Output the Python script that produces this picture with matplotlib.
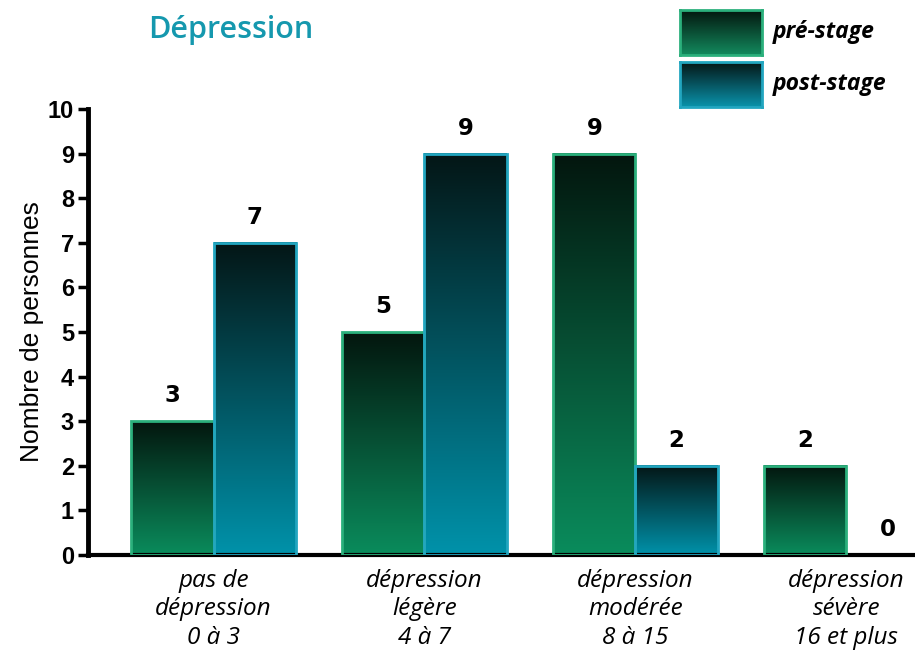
import numpy as np
import matplotlib
matplotlib.use("Agg")
import matplotlib.pyplot as plt

categories = ["pas de\ndépression\n0 à 3", "dépression\nlégère\n4 à 7",
              "dépression\nmodérée\n8 à 15", "dépression\nsévère\n16 et plus"]
pre_values = [3, 5, 9, 2]
post_values = [7, 9, 2, 0]
series_names = ["pré-stage", "post-stage"]
yticks = list(range(0, 11))

W, H = 915, 651
fig = plt.figure(figsize=(W / 100, H / 100), dpi=100)
ax = fig.add_axes([88 / W, 96 / H, (W - 88) / W, (555 - 109) / H])

pre_top, pre_bot, pre_edge = "#03160e", "#0a8c5c", "#2bb07c"
post_top, post_bot, post_edge = "#041616", "#0092aa", "#22a6c0"


def grad(top, bot, n=256):
    t = np.linspace(0, 1, n)[:, None]
    c0 = np.array(matplotlib.colors.to_rgb(bot))
    c1 = np.array(matplotlib.colors.to_rgb(top))
    return (c0 * (1 - t) + c1 * t)[:, None, :]


x = np.arange(len(categories))
w = 0.39
bars_pre = ax.bar(x - w / 2, pre_values, w, facecolor="none", edgecolor=pre_edge, linewidth=2, zorder=3)
bars_post = ax.bar(x + w / 2, post_values, w, facecolor="none", edgecolor=post_edge, linewidth=2, zorder=3)

for bars, top, bot in [(bars_pre, pre_top, pre_bot), (bars_post, post_top, post_bot)]:
    for b in bars:
        h = b.get_height()
        if h > 0:
            ax.imshow(grad(top, bot), extent=[b.get_x(), b.get_x() + b.get_width(), 0, h],
                      origin="lower", aspect="auto", zorder=2, interpolation="bilinear")
        else:
            b.set_visible(False)
        ax.annotate(f"{int(h)}", (b.get_x() + b.get_width() / 2, h), xytext=(0, 10),
                    textcoords="offset points", ha="center", va="bottom",
                    fontsize=16.5, fontweight="heavy", family="DejaVu Sans", color="black")

ax.set_xlim(-0.595, 3.325)
ax.set_ylim(0, 10)
ax.set_yticks(yticks)
ax.set_yticklabels([str(v) for v in yticks], fontsize=17, fontweight="bold", family="Liberation Sans")
ax.set_xticks(x)
ax.set_xticklabels(categories, fontsize=17.5, style="italic", family="Open Sans", linespacing=1.25)
ax.tick_params(axis="x", length=0, pad=10)
ax.tick_params(axis="y", length=7, width=2.5, pad=3)
for s in ["top", "right"]:
    ax.spines[s].set_visible(False)
ax.spines["left"].set_linewidth(3.5)
ax.spines["bottom"].set_linewidth(3)
ax.set_ylabel("Nombre de personnes", fontsize=19, family="Liberation Sans", labelpad=3)

fig.text(231 / W, 1 - 30 / H, "Dépression", fontsize=22, fontweight="semibold",
         family="Open Sans", color="#1598ae", ha="center", va="center")

# legend
for i, (name, top, bot, edge) in enumerate([(series_names[0], pre_top, "#138a5e", pre_edge),
                                            (series_names[1], post_top, "#0a93ab", post_edge)]):
    y0 = 55 + i * 52
    lax = fig.add_axes([680 / W, 1 - y0 / H, 82 / W, 45 / H])
    lax.imshow(grad(top, bot), extent=[0, 1, 0, 1], origin="lower", aspect="auto")
    lax.set_xlim(0, 1); lax.set_ylim(0, 1)
    lax.set_xticks([]); lax.set_yticks([])
    for s in lax.spines.values():
        s.set_color(edge); s.set_linewidth(2)
    fig.text(773 / W, 1 - (y0 - 23) / H, name, fontsize=16.5, fontweight="bold", style="italic",
             family="Open Sans", ha="left", va="center")

fig.savefig("out.png", dpi=100)
